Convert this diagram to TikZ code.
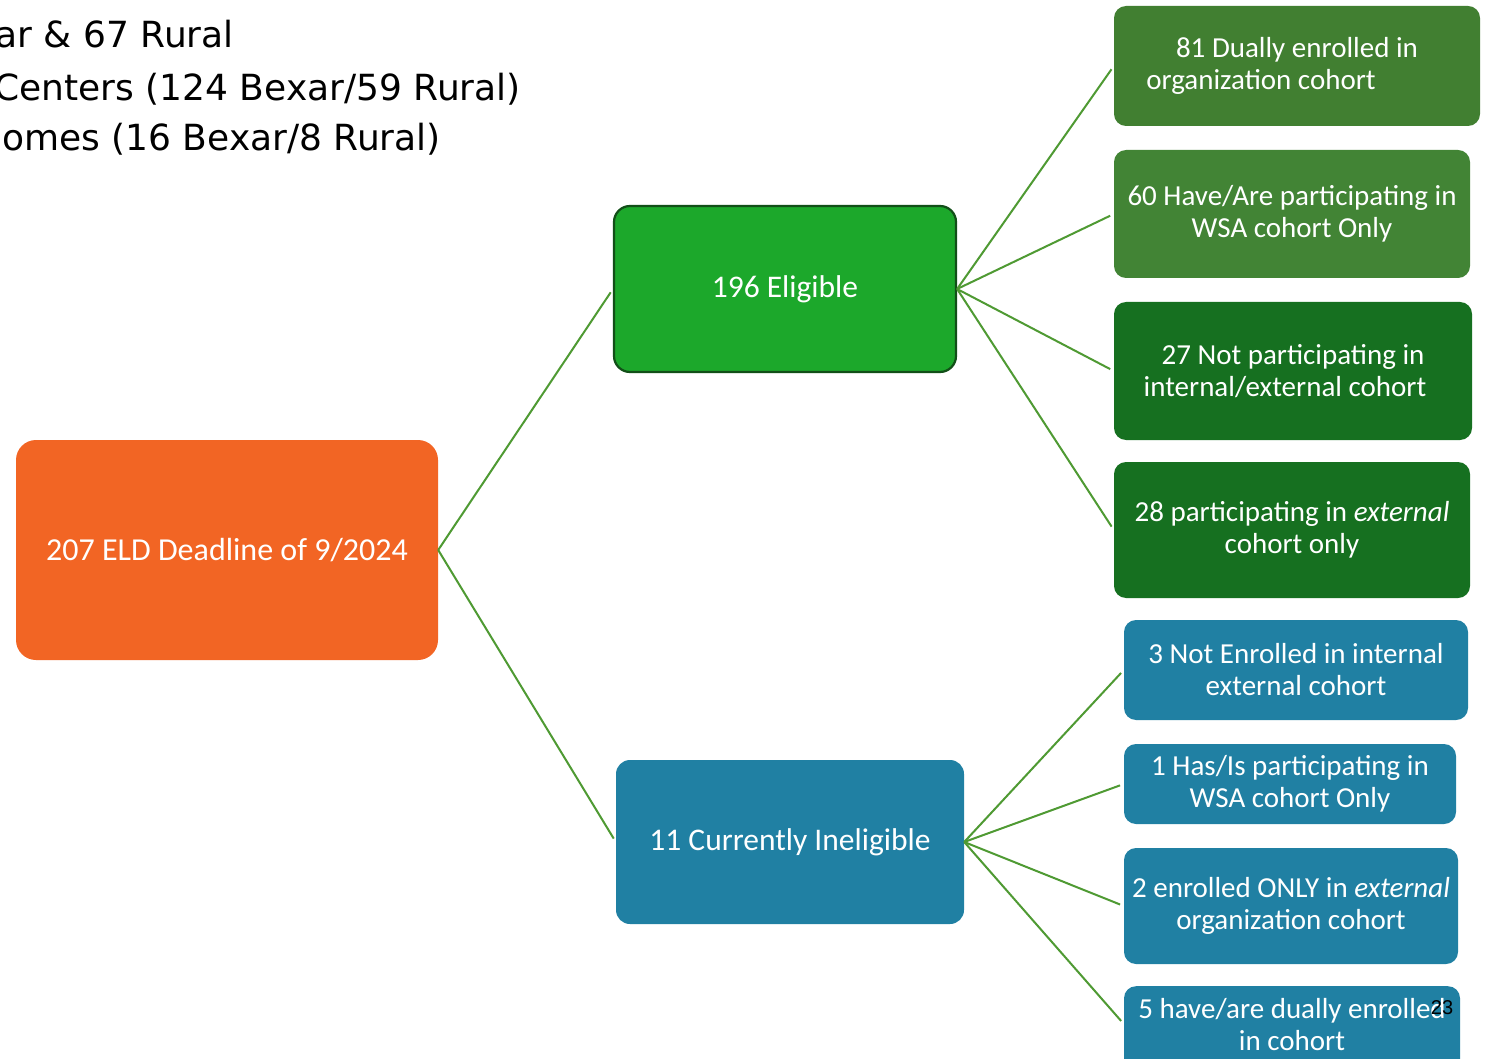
\documentclass[tikz,border=0pt]{standalone}
\usepackage{fontspec}
\setmainfont{Carlito}
\newfontfamily\headfont{DejaVu Sans}
\newfontfamily\numfont{Liberation Sans}
\definecolor{rootorange}{HTML}{F26524}
\definecolor{eligreen}{HTML}{1CA82B}
\definecolor{eliborder}{HTML}{124F18}
\definecolor{midgreen}{HTML}{417F31}
\definecolor{midgreenb}{HTML}{428435}
\definecolor{darkgreen}{HTML}{167020}
\definecolor{tealblue}{HTML}{2080A3}
\definecolor{linkgreen}{HTML}{4F9A33}
\tikzset{
  box/.style={rounded corners=12pt, inner sep=0pt, text=white, align=center,
    font=\fontsize{29}{32}\selectfont},
  bigbox/.style={box, font=\fontsize{31.5}{34}\selectfont},
  link/.style={draw=linkgreen, line width=2pt, shorten >=4pt},
  headline/.style={anchor=base east, inner sep=0pt, text=black,
    font=\headfont\fontsize{36}{40}\selectfont}
}
\begin{document}
\begin{tikzpicture}[x=1pt, y=-1pt]
  \fill[white] (0,0) rectangle (1486,1059);
  \useasboundingbox (0,0) rectangle (1486,1059);
  \clip (0,0) rectangle (1486,1059);

  % heading lines at the top left
  \node[headline] (h1) at (234,48) {ar \& 67 Rural};
  \node[headline] (h2) at (521,101) {Centers (124 Bexar/59 Rural)};
  \node[headline] (h3) at (441,151) {omes (16 Bexar/8 Rural)};

  % root and second level
  \node[bigbox, fill=rootorange, rounded corners=20pt, minimum width=422pt, minimum height=220pt,
    font=\fontsize{32}{34}\selectfont]
    (root) at (227,550) {207 ELD Deadline of 9/2024};
  \node[bigbox, fill=eligreen, draw=eliborder, line width=2.2pt, rounded corners=16pt,
    minimum width=342pt, minimum height=166pt]
    (elig) at (785,289) {196 Eligible};
  \node[bigbox, fill=tealblue, rounded corners=14pt, minimum width=348pt, minimum height=164pt]
    (inel) at (790,842) {11 Currently Ineligible};

  % eligible branches
  \node[box, fill=midgreen, minimum width=366pt, minimum height=120pt]
    (e1) at (1297,66) {81 Dually enrolled in\\organization cohort\hspace*{72pt}};
  \node[box, fill=midgreenb, minimum width=356pt, minimum height=128pt]
    (e2) at (1292,214) {60 Have/Are participating in\\WSA cohort Only};
  \node[box, fill=darkgreen, minimum width=358pt, minimum height=138pt]
    (e3) at (1293,371) {27 Not participating in\\internal/external cohort\hspace*{16pt}};
  \node[box, fill=darkgreen, minimum width=356pt, minimum height=136pt]
    (e4) at (1292,530) {28 participating in \textit{external}\\cohort only};

  % ineligible branches
  \node[box, fill=tealblue, minimum width=344pt, minimum height=100pt]
    (i1) at (1296,670) {3 Not Enrolled in internal\\external cohort};
  \node[box, fill=tealblue, minimum width=332pt, minimum height=80pt]
    (i2) at (1290,784) {1 Has/Is participating in\\WSA cohort Only};
  \node[box, fill=tealblue, minimum width=334pt, minimum height=116pt]
    (i3) at (1291,906) {2 enrolled ONLY in \textit{external}\\organization cohort};
  \node[box, fill=tealblue, minimum width=336pt, minimum height=150pt, anchor=north]
    (i4) at (1292,986) {};
  \node[box, anchor=base] (i4t) at (1292,1050) {5 have/are dually enrolled\\in cohort};

  % page number
  \node[anchor=base, inner sep=0pt, font=\numfont\fontsize{20}{22}\selectfont] (pg) at (1442,1014) {23};

  % connectors
  \draw[link] (root.east) -- (elig.west);
  \draw[link] (root.east) -- (inel.west);
  \foreach \t in {e1,e2,e3,e4} \draw[link] (elig.east) -- (\t.west);
  \draw[link] (inel.east) -- (i1.west);
  \draw[link] (inel.east) -- (i2.west);
  \draw[link] (inel.east) -- (i3.west);
  \draw[link] (inel.east) -- (i4.west |- 0,1024);
\end{tikzpicture}
\end{document}
